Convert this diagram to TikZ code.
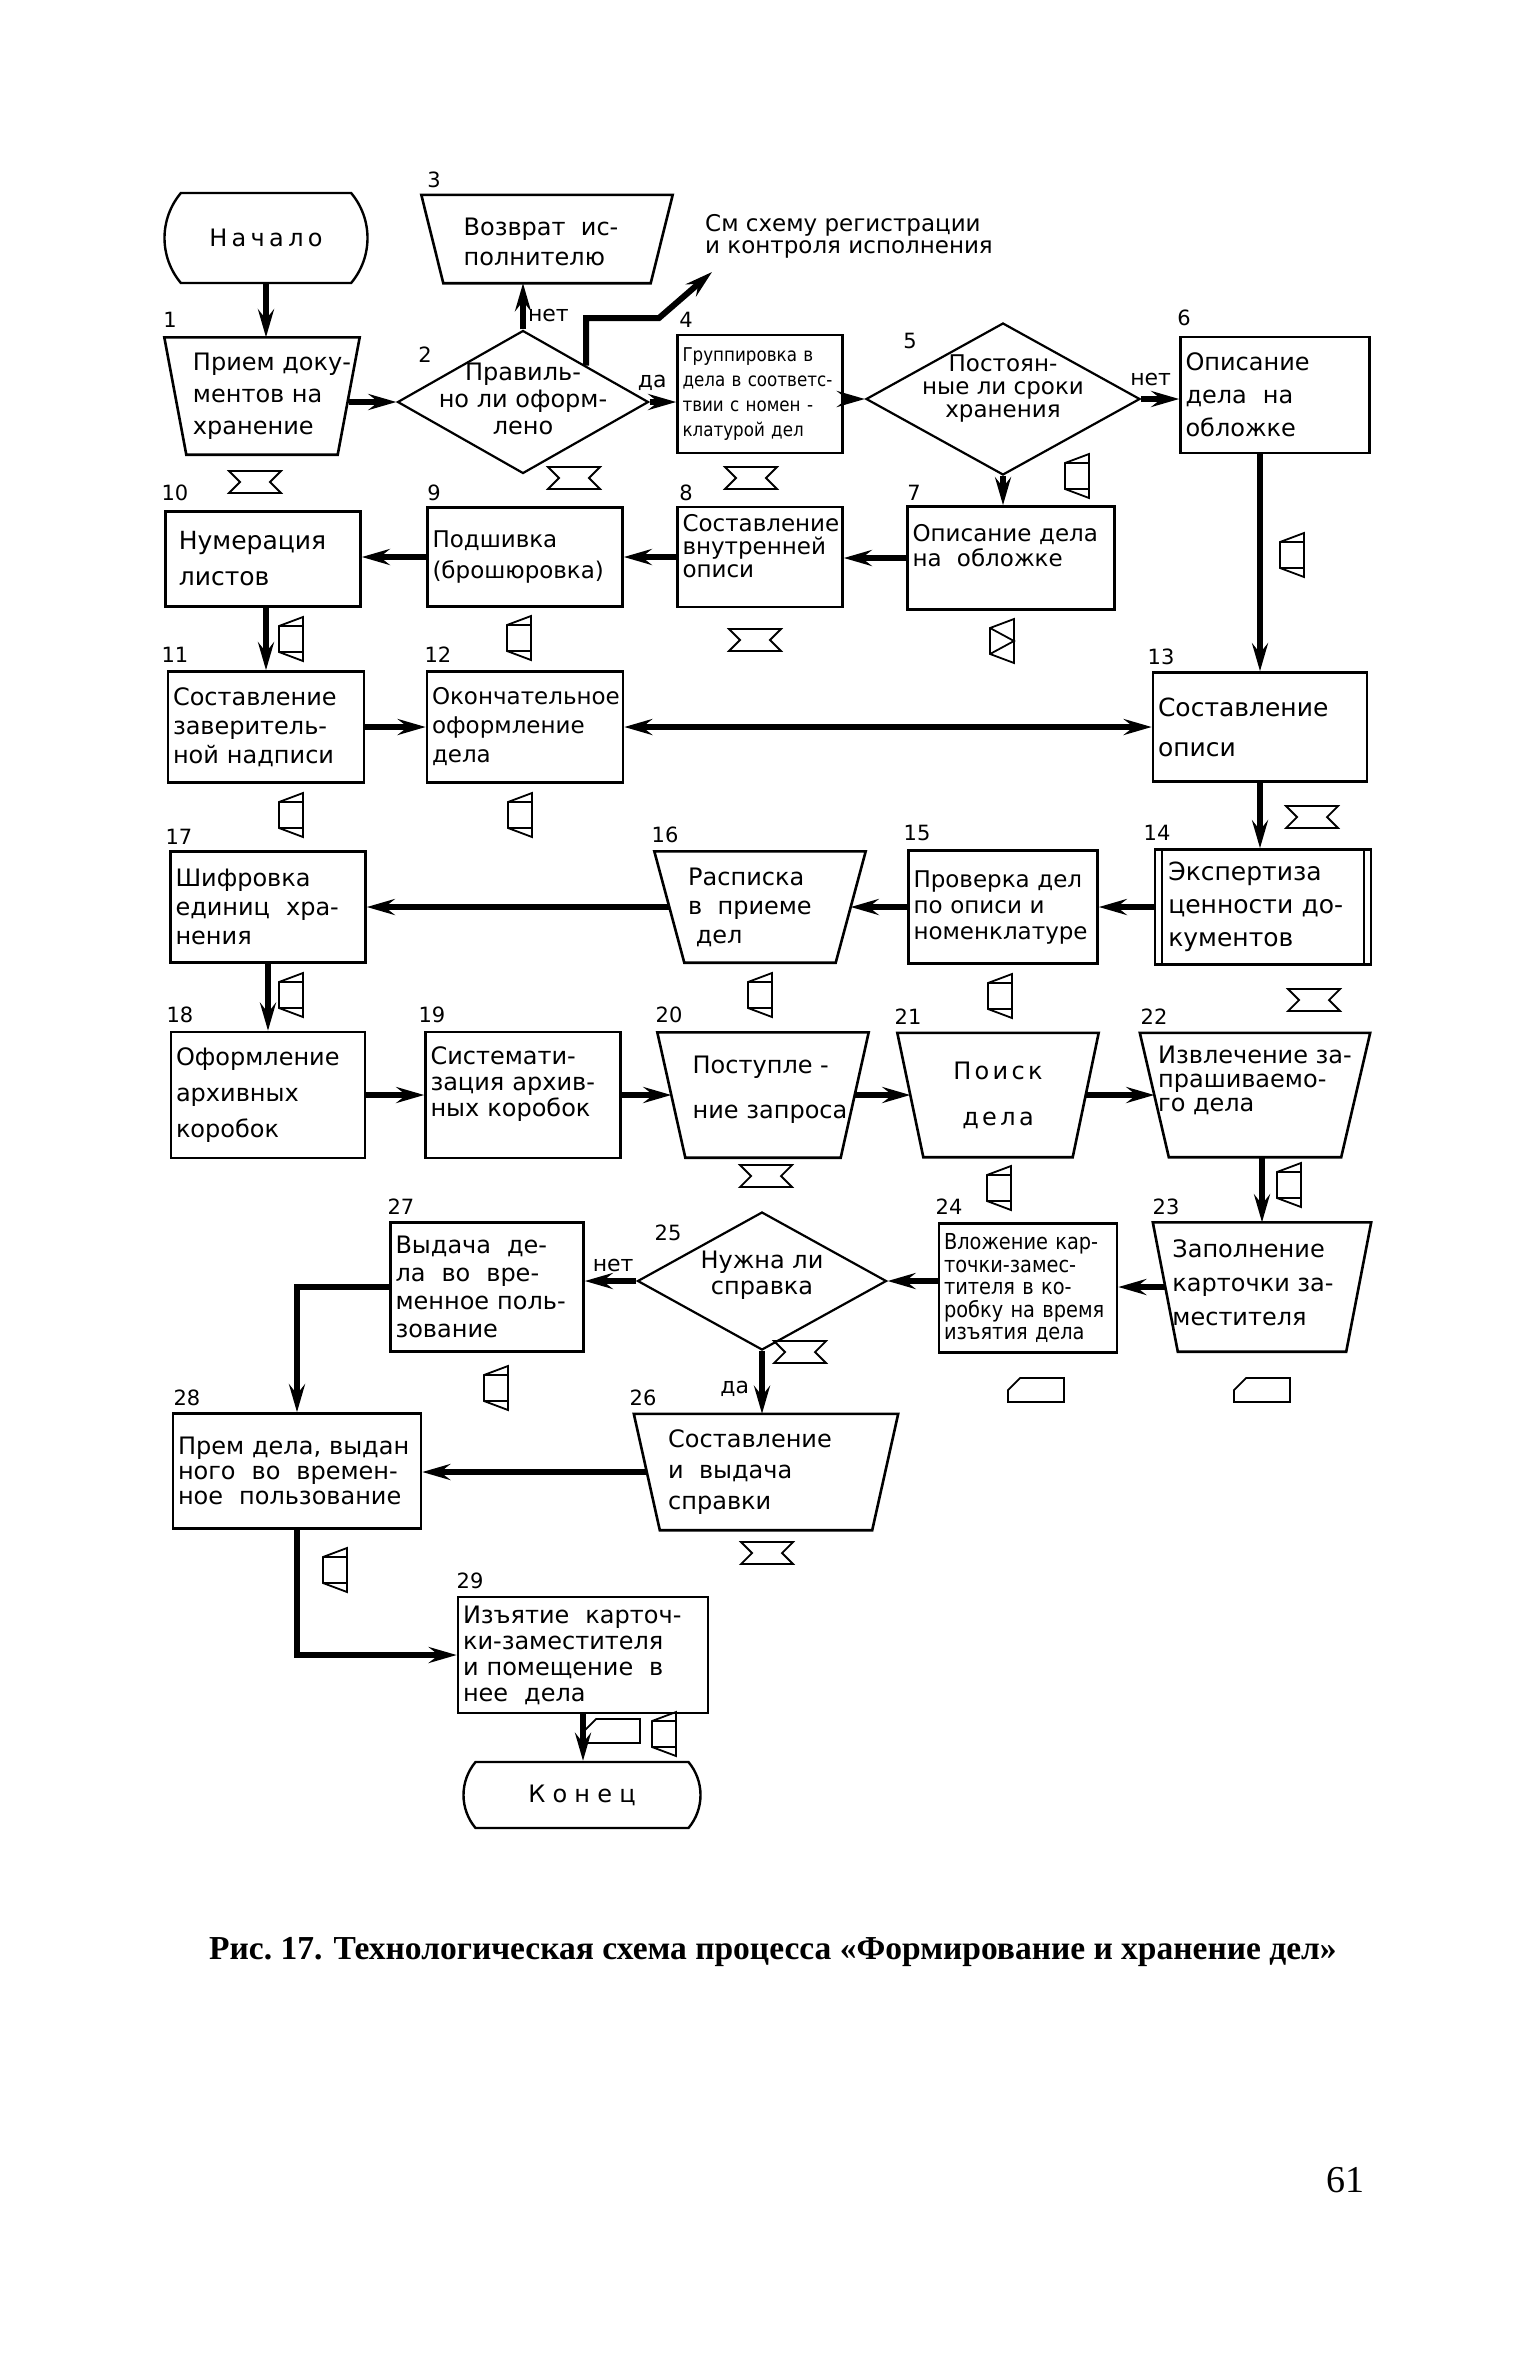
\documentclass[tikz,border=0pt]{standalone}
\usepackage{fontspec}
\setmainfont{DejaVu Sans}
\newfontfamily\uzkij{DejaVu Sans}[FakeStretch=0.88]
\newfontfamily\podpisfont{Liberation Serif}
\usetikzlibrary{arrows.meta,shapes.geometric,shapes.misc,positioning}

% trapecija: uzel, polovina skosa
\newcommand\trapez[2]{\draw[line width=2.6pt]
  ([xshift=-#2pt]#1.north west) -- ([xshift=#2pt]#1.north east)
  -- ([xshift=-#2pt]#1.south east) -- ([xshift=#2pt]#1.south west) -- cycle;}

\tikzset{
  blok/.style={draw, line width=2.6pt, align=left, inner xsep=5pt, inner ysep=0pt, text width=#1},
  trap/.style={rectangle, inner sep=0pt, minimum width=#1},
  vopros/.style={draw, line width=2.2pt, diamond, inner sep=0pt},
  term/.style={draw, line width=2.4pt, rounded rectangle,
    rounded rectangle arc length=80, inner sep=0pt},
  tx/.style={align=left, inner sep=0pt},
  num/.style={font=\fontsize{21}{21}\selectfont, inner sep=0pt},
  otvet/.style={font=\fontsize{22}{22}\selectfont, inner sep=2pt},
  pot/.style={->, line width=6pt},
  pics/perenos/.style={code={
    \draw[line width=1.8pt] (-26,-11) -- (26,-11) -- (15,0) -- (26,11)
      -- (-26,11) -- (-15,0) -- cycle;}},
  pics/hran/.style={code={
    \draw[line width=1.8pt] (-12,-13) -- (12,-22) -- (12,22) -- (-12,13) -- cycle
      (-12,-13) -- (12,-13) (-12,13) -- (12,13);}},
  pics/hranx/.style={code={
    \draw[line width=1.8pt] (-12,-13) -- (12,-22) -- (12,22) -- (-12,13) -- cycle
      (-12,-13) -- (12,0) -- (-12,13);}},
  pics/kartochka/.style={code={
    \draw[line width=1.8pt] (-28,12) -- (28,12) -- (28,-12) -- (-16,-12)
      -- (-28,0) -- cycle;}},
}

\begin{document}
\begin{tikzpicture}[x=1pt, y=-1pt, font=\fontsize{24}{29}\selectfont,
  >={Stealth[length=28pt,width=16pt,inset=10pt]}]
\fill[white] (0,0) rectangle (1535,2362);
\useasboundingbox (0,0) rectangle (1535,2362);

% verkh
\node[term, minimum width=203, minimum height=90, font=\addfontfeatures{LetterSpace=18}\fontsize{24}{29}\selectfont] (nach) at (266,238) {Начало};
\node[trap=229, minimum height=88,
  label={[tx, xshift=-6, yshift=-3, font=\fontsize{24}{30}\selectfont]center:{Возврат~~ис-\\полнителю}}] (b3) at (547,239) {};
\trapez{b3}{11}
\node[tx, anchor=west, font=\fontsize{23}{22}\selectfont] (smtext) at (705,236) {См схему регистрации\\и контроля исполнения};
\coordinate (povorot) at (659,318);
\coordinate (smstrelka) at (712,272);

% rjad 1
\node[trap=173, minimum height=117,
  label={[tx, xshift=10, font=\fontsize{24}{32}\selectfont]center:{Прием~доку-\\ментов~на\\хранение}}] (b1) at (262,396) {};
\trapez{b1}{11}
\node[vopros, minimum width=251, minimum height=143,
  label={[tx, align=center, yshift=3, font=\fontsize{24}{27}\selectfont]center:{Правиль-\\но~ли~оформ-\\лено}}] (d2) at (523,402) {};
\node[blok=155pt, minimum height=118, font=\uzkij\fontsize{19}{25}\selectfont] (b4) at (760,394) {Группировка~в\\дела~в~соответс-\\твии~с~номен~-\\клатурой~дел};
\node[vopros, minimum width=274, minimum height=152,
  label={[tx, align=center, yshift=11, font=\fontsize{23}{23}\selectfont]center:{Постоян-\\ные~ли~сроки\\хранения}}] (d5) at (1003,399) {};
\node[blok=179pt, minimum height=116, font=\fontsize{24}{33}\selectfont] (b6) at (1275,395) {Описание\\дела~~на\\обложке};

% rjad 2
\node[blok=197pt, minimum height=103, font=\fontsize{23}{25}\selectfont] (b7) at (1011,558) {Описание~дела\\на~~обложке\\~};
\node[blok=155pt, minimum height=100, font=\fontsize{23}{23}\selectfont] (b8) at (760,557) {Составление\\внутренней\\описи\\~};
\node[blok=185pt, minimum height=99, font=\fontsize{23}{31}\selectfont] (b9) at (525,557) {Подшивка\\(брошюровка)};
\node[blok=185pt, minimum height=95, font=\fontsize{25}{36}\selectfont] (b10) at (263,559) {~Нумерация\\~листов};

% rjad 3
\node[blok=186pt, minimum height=111] (b11) at (266,727) {Составление\\заверитель-\\ной~надписи};
\node[blok=186pt, minimum height=111, font=\fontsize{23}{29}\selectfont] (b12) at (525,727) {Окончательное\\оформление\\дела};
\node[blok=204pt, minimum height=109, font=\fontsize{25}{40}\selectfont] (b13) at (1260,727) {Составление\\описи};

% rjad 4
\node[blok=206pt, minimum height=115, font=\fontsize{25}{33}\selectfont] (b14) at (1263,907) {~Экспертиза\\~ценности~до-\\~кументов};
\draw[line width=1.8pt] ([xshift=8pt]b14.north west) -- ([xshift=8pt]b14.south west)
  ([xshift=-8pt]b14.north east) -- ([xshift=-8pt]b14.south east);
\node[blok=179pt, minimum height=113, font=\fontsize{23}{26}\selectfont] (b15) at (1003,907) {Проверка~дел\\по~описи~и\\номенклатуре};
\node[trap=181, minimum height=111,
  label={[tx, xshift=-10, font=\fontsize{24}{29}\selectfont]center:{Расписка\\в~~приеме\\~дел}}] (b16) at (760,907) {};
\trapez{b16}{15}
\node[blok=185pt, minimum height=111] (b17) at (268,907) {Шифровка\\единиц~~хра-\\нения};

% rjad 5
\node[blok=184pt, minimum height=126, font=\fontsize{24}{36}\selectfont] (b18) at (268,1095) {Оформление\\архивных\\коробок};
\node[blok=185pt, minimum height=126, font=\fontsize{24}{26}\selectfont] (b19) at (523,1095) {Системати-\\зация~архив-\\ных~коробок\\~};
\node[trap=183, minimum height=125,
  label={[tx, xshift=7, yshift=5, font=\fontsize{24}{45}\selectfont]center:{Поступле~-\\ние~запроса}}] (b20) at (763,1095) {};
\trapez{b20}{14}
\node[trap=175, minimum height=124,
  label={[tx, align=center, font=\addfontfeatures{LetterSpace=14}\fontsize{24}{46}\selectfont]center:{Поиск\\дела}}] (b21) at (998,1095) {};
\trapez{b21}{13}
\node[trap=201, minimum height=124,
  label={[tx, yshift=15, font=\fontsize{24}{24}\selectfont]center:{Извлечение~за-\\прашиваемо-\\го~дела}}] (b22) at (1255,1095) {};
\trapez{b22}{14.5}

% rjad 6
\node[trap=193, minimum height=129,
  label={[tx, xshift=-9, yshift=4, font=\fontsize{24}{34}\selectfont]center:{Заполнение\\карточки~за-\\местителя}}] (b23) at (1262,1287) {};
\trapez{b23}{12.5}
\node[blok=168pt, minimum height=129, font=\uzkij\fontsize{22}{22.5}\selectfont] (b24) at (1028,1288) {Вложение~кар-\\точки-замес-\\тителя~в~ко-\\робку~на~время\\изъятия~дела};
\node[vopros, minimum width=249, minimum height=138,
  label={[tx, align=center, yshift=6, font=\fontsize{24}{26}\selectfont]center:{Нужна~ли\\справка}}] (d25) at (762,1281) {};
\node[blok=183pt, minimum height=129, font=\fontsize{24}{28}\selectfont] (b27) at (487,1287) {Выдача~~де-\\ла~~во~~вре-\\менное~поль-\\зование};

% rjad 7
\node[trap=238, minimum height=116,
  label={[tx, xshift=-16, font=\fontsize{24}{31}\selectfont]center:{Составление\\и~~выдача\\справки}}] (b26) at (766,1472) {};
\trapez{b26}{13}
\node[blok=238pt, minimum height=115, font=\fontsize{24}{25}\selectfont] (b28) at (297,1471) {Прем~дела,~выдан\\ного~~во~~времен-\\ное~~пользование};
\node[blok=240pt, minimum height=116, font=\fontsize{24}{26}\selectfont] (b29) at (583,1655) {Изъятие~~карточ-\\ки-заместителя\\и~помещение~~в\\нее~~дела};
\node[term, minimum width=237, minimum height=66, font=\addfontfeatures{LetterSpace=30}\fontsize{24}{29}\selectfont] (kon) at (582,1795) {Конец};

% nomera
\foreach \n/\x/\y in {1/170/320, 2/425/355, 3/434/180, 4/686/320, 5/910/341,
    6/1184/318, 7/914/493, 8/686/493, 9/434/493, 10/175/493, 11/175/655,
    12/438/655, 13/1161/657, 14/1157/833, 15/917/833, 16/665/835, 17/179/837,
    18/180/1015, 19/432/1015, 20/669/1015, 21/908/1017, 22/1154/1017,
    23/1166/1207, 24/949/1207, 25/668/1233, 26/643/1398, 27/401/1207,
    28/187/1398, 29/470/1581}
  \node[num] (n\n) at (\x,\y) {\n};

% strelki
\draw[pot] (nach.south) -- (nach.south |- b1.north);
\draw[pot] (b1.east |- d2.west) -- (d2.west);
\draw[pot] (d2.north) -- (d2.north |- b3.south) node[otvet, right, pos=0.3] {нет};
\draw[pot] (d2.30) |- (povorot) -- (smstrelka);
\draw[pot] (d2.east) -- (d2.east -| b4.west) node[otvet, above=6pt, pos=0.1] {да};
\draw[pot] (b4.east |- d5.west) -- (d5.west);
\draw[pot] (d5.east) -- (d5.east -| b6.west) node[otvet, above=8pt, pos=0.25] {нет};
\draw[pot] (d5.south) -- (d5.south |- b7.north);
\draw[pot] (b7.west) -- (b7.west -| b8.east);
\draw[pot] (b8.west) -- (b8.west -| b9.east);
\draw[pot] (b9.west) -- (b9.west -| b10.east);
\draw[pot] (b11.north |- b10.south) -- (b11.north);
\draw[pot] (b11.east) -- (b11.east -| b12.west);
\draw[pot, <->] (b13.west) -- (b13.west -| b12.east);
\draw[pot] (b13.north |- b6.south) -- (b13.north);
\draw[pot] (b13.south) -- (b13.south |- b14.north);
\draw[pot] (b14.west) -- (b14.west -| b15.east);
\draw[pot] (b15.west) -- (b15.west -| b16.east);
\draw[pot] (b16.west) -- (b16.west -| b17.east);
\draw[pot] (b18.north |- b17.south) -- (b18.north);
\draw[pot] (b18.east) -- (b18.east -| b19.west);
\draw[pot] (b19.east) -- (b19.east -| b20.west);
\draw[pot] (b20.east) -- (b20.east -| b21.west);
\draw[pot] (b21.east) -- (b21.east -| b22.west);
\draw[pot] (b23.north |- b22.south) -- (b23.north);
\draw[pot] (b23.west) -- (b23.west -| b24.east);
\draw[pot] (d25.east -| b24.west) -- (d25.east);
\draw[pot] (d25.west) -- (d25.west -| b27.east) node[otvet, above=4pt, pos=0.45] {нет};
\draw[pot] (d25.south) -- (d25.south |- b26.north) node[otvet, left=8pt, pos=0.6] {да};
\draw[pot] (b27.west) -| (b28.north);
\draw[pot] (b26.west) -- (b26.west -| b28.east);
\draw[pot] (b28.south) |- (b29.west);
\draw[pot] (b29.south) -- (b29.south |- kon.north);

% znachki
\foreach \x/\y in {255/482, 574/478, 751/478, 755/640, 1312/817, 1314/1000,
    766/1176, 800/1352, 767/1553}
  \pic at (\x,\y) {perenos};
\foreach \x/\y in {1077/476, 1292/555, 291/639, 519/638, 291/815, 520/815,
    291/995, 760/995, 1000/996, 1289/1185, 999/1188, 496/1388, 335/1570, 664/1734}
  \pic at (\x,\y) {hran};
\pic at (1002,641) {hranx};
\foreach \x/\y in {1036/1390, 1262/1390, 612/1731}
  \pic at (\x,\y) {kartochka};

% podpis
\node[font=\podpisfont\bfseries\fontsize{33.5}{33.5}\selectfont] (podpis) at (773,1952)
  {Рис.~17. Технологическая схема процесса «Формирование и хранение дел»};
\node[font=\podpisfont\fontsize{38}{38}\selectfont] (stranica) at (1345,2180) {61};
\end{tikzpicture}
\end{document}
